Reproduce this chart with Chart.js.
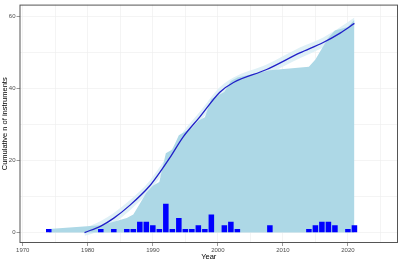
<!DOCTYPE html>
<html>
<head>
<meta charset="utf-8">
<script src="https://cdn.jsdelivr.net/npm/chart.js@4.4.1/dist/chart.umd.min.js"></script>
<style>
  html, body { margin: 0; padding: 0; background: #fff; }
  #wrap { width: 400px; height: 261px; }
</style>
</head>
<body>
<div id="wrap"><canvas id="instChart"></canvas></div>
<script>
// instruments per year
var barYears = [1974, 1982, 1984, 1986, 1987, 1988, 1989, 1990, 1991, 1992, 1993, 1994, 1995, 1996, 1997, 1998, 1999, 2001, 2002, 2003, 2008, 2014, 2015, 2016, 2017, 2018, 2020, 2021];
var barCounts = [1, 1, 1, 1, 1, 3, 3, 2, 1, 8, 1, 4, 1, 1, 2, 1, 5, 2, 3, 1, 2, 1, 2, 3, 3, 2, 1, 2];
// cumulative count (area)
var cumYears = barYears;
var cumValues = [1, 2, 3, 4, 5, 8, 11, 13, 14, 22, 23, 27, 28, 29, 31, 32, 37, 39, 42, 43, 45, 46, 48, 51, 54, 56, 57, 59];
// smoothed trend + ribbon
var fitYears = [1979.5, 1982, 1984, 1986.5, 1989.5, 1991, 1992.6, 1994.7, 1997.2, 2000.3, 2002.4, 2007.5, 2012.6, 2016.2, 2018.8, 2021];
var fitValues = [0, 1.8, 4, 7.6, 12.9, 16.5, 20.7, 26.6, 32, 38.9, 41.6, 45.2, 49.8, 52.7, 55.3, 58];
var fitUpper = [1.2, 3.2, 5.4, 9.0, 14.3, 18, 22.2, 28.0, 33.4, 40.3, 43.0, 46.6, 51.3, 54.1, 56.9, 59.6];
var fitLower = [-0.9, 0.6, 2.6, 6.2, 11.5, 15, 19.2, 25.2, 30.6, 37.5, 40.2, 43.8, 48.3, 51.3, 53.7, 56.4];

function pts(xs, ys) {
    return xs.map(function (x, i) { return { x: x, y: ys[i] }; });
}

var boxPlugin = {
    id: 'panelBox',
    afterDraw: function (chart) {
        var a = chart.chartArea, c = chart.ctx;
        c.save();
        c.strokeStyle = '#555555';
        c.lineWidth = 1;
        c.strokeRect(a.left + 0.5, a.top + 0.5, a.right - a.left - 1, a.bottom - a.top - 1);
        c.restore();
    }
};

var tickFont = { family: 'Liberation Sans, Arial, sans-serif', size: 6 };
var titleFont = { family: 'Liberation Sans, Arial, sans-serif', size: 7.5 };

new Chart(document.getElementById('instChart').getContext('2d'), {
    type: 'bar',
    data: {
        datasets: [
            {
                type: 'bar',
                data: pts(barYears, barCounts),
                backgroundColor: '#0000ff',
                barPercentage: 0.85,
                categoryPercentage: 1,
                order: 0
            },
            {
                type: 'line',
                data: pts(fitYears, fitValues),
                borderColor: '#2020c8',
                borderWidth: 1.3,
                pointRadius: 0,
                cubicInterpolationMode: 'monotone',
                fill: false,
                order: 1
            },
            {
                type: 'line',
                data: pts(cumYears, cumValues),
                borderWidth: 0,
                borderColor: 'rgba(0,0,0,0)',
                backgroundColor: '#add8e6',
                pointRadius: 0,
                fill: 'origin',
                order: 2
            },
            {
                type: 'line',
                data: pts(fitYears, fitLower),
                borderWidth: 0,
                borderColor: 'rgba(0,0,0,0)',
                pointRadius: 0,
                cubicInterpolationMode: 'monotone',
                fill: false,
                order: 3
            },
            {
                type: 'line',
                data: pts(fitYears, fitUpper),
                borderWidth: 0,
                borderColor: 'rgba(0,0,0,0)',
                backgroundColor: '#dff0f6',
                pointRadius: 0,
                cubicInterpolationMode: 'monotone',
                fill: '-1',
                order: 4
            }
        ]
    },
    options: {
        responsive: true,
        maintainAspectRatio: false,
        animation: false,
        layout: { padding: { top: 1, right: 2, left: 0, bottom: 0 } },
        plugins: { legend: { display: false }, tooltip: { enabled: false } },
        scales: {
            x: {
                type: 'linear',
                min: 1969.5,
                max: 2027.7,
                offset: false,
                grid: {
                    offset: false,
                    color: '#ececec',
                    lineWidth: 0.6,
                    tickLength: 3,
                    tickColor: function (c) { return c.tick && c.tick.value % 10 === 0 ? '#555555' : 'rgba(0,0,0,0)'; }
                },
                border: { display: false },
                ticks: {
                    stepSize: 5,
                    includeBounds: false,
                    autoSkip: false,
                    maxRotation: 0,
                    padding: 1,
                    color: '#4d4d4d',
                    font: tickFont,
                    callback: function (v) { return v % 10 === 0 ? String(v) : ''; }
                },
                title: { display: true, text: 'Year', color: '#000', font: titleFont, padding: { top: 0, bottom: 0 } },
                afterFit: function (s) { s.height = 18; }
            },
            y: {
                min: -2.9,
                max: 63.2,
                grid: {
                    color: '#ececec',
                    lineWidth: 0.6,
                    tickLength: 3,
                    tickColor: function (c) { return c.tick && c.tick.value % 20 === 0 ? '#555555' : 'rgba(0,0,0,0)'; }
                },
                border: { display: false },
                ticks: {
                    stepSize: 10,
                    includeBounds: false,
                    padding: 1,
                    color: '#4d4d4d',
                    font: tickFont,
                    callback: function (v) { return v % 20 === 0 ? String(v) : ''; }
                },
                title: { display: true, text: 'Cumulative n of instruments', color: '#000', font: titleFont, padding: { top: 0, bottom: 0 } },
                afterFit: function (s) { s.width = 19.5; }
            }
        }
    },
    plugins: [boxPlugin]
});
</script>
</body>
</html>
